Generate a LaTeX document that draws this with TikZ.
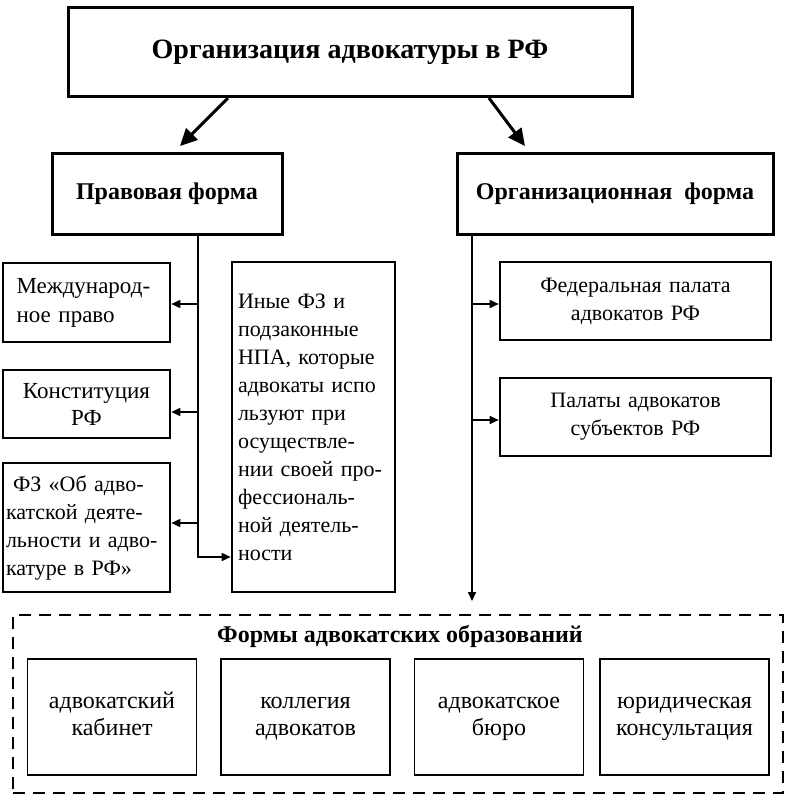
\documentclass[tikz,border=0pt]{standalone}
\usepackage{fontspec}
\setmainfont{Liberation Serif}
\usetikzlibrary{arrows.meta}

\begin{document}
\begin{tikzpicture}
  [x=1pt,y=-1pt,
   % Styles
   title box/.style={draw,line width=3pt,minimum width=564pt,minimum height=89pt,
     font=\fontsize{28}{34}\selectfont\bfseries},
   form box/.style={draw,line width=3pt,minimum height=81pt,
     font=\fontsize{24}{29}\selectfont\bfseries},
   source box/.style={draw,line width=2.6pt,inner sep=3pt,
     font=\fontsize{22}{28}\selectfont},
   kind box/.style={draw,line width=1.8pt,minimum width=169pt,minimum height=116pt,
     text width=162pt,align=center,font=\fontsize{24}{27}\selectfont},
   frame box/.style={draw,dash pattern=on 12pt off 8pt,line width=2.6pt},
   big arrow/.style={line width=3pt,-{Triangle[length=17pt,width=16pt]}},
   branch/.style={line width=1.6pt,-{Triangle[length=9pt,width=8pt]}}]

  \useasboundingbox (0,0) rectangle (790,807);

  % Top level
  \node[title box] (orgrf) at (350,52) {Организация адвокатуры в РФ};
  \node[form box,minimum width=230pt] (legal) at (167,193.5) {Правовая форма};
  \node[form box,minimum width=316pt] (organ) at (615,193.5) {Организационная\ \ форма};

  \coordinate (legal in) at (180,146);
  \coordinate (organ in) at (525,146);
  \draw[big arrow] ([xshift=-122pt]orgrf.south) -- (legal in);
  \draw[big arrow] ([xshift=139pt]orgrf.south) -- (organ in);

  % Legal sources
  \node[source box,text width=140pt,minimum width=167pt,minimum height=79pt,align=left,
    font=\fontsize{23}{29}\selectfont]
    (intl) at (86.5,302.5) {Международ-\\ное право};
  \node[source box,text width=161pt,minimum height=68pt,align=center,
    font=\fontsize{23}{27}\selectfont]
    (const) at (86.5,404) {Конституция\\РФ};
  \node[source box,text width=161pt,minimum height=129pt,align=left]
    (fzlaw) at (86.5,527.5)
    {\hspace*{7pt}ФЗ «Об адво-\\катской деяте-\\льности и адво-\\катуре в РФ»};
  \node[source box,text width=151pt,minimum width=163pt,minimum height=330pt,align=left]
    (other) at (313.5,427)
    {Иные ФЗ и\\подзаконные\\НПА, которые\\адвокаты испо\\льзуют при\\осуществле-\\нии своей про-\\фессиональ-\\ной деятель-\\ности};

  \coordinate (left top) at ([xshift=31pt]legal.south);
  \draw[branch] (left top) |- ([yshift=-130pt]other.west);
  \draw[branch] (left top |- 0,304) -- (intl.east |- 0,304);
  \draw[branch] (left top |- 0,412) -- (const.east |- 0,412);
  \draw[branch] (left top |- 0,523) -- (fzlaw.east |- 0,523);

  % Organisational bodies
  \node[source box,text width=265pt,minimum height=78pt,align=center]
    (fedchamber) at (635.5,301) {Федеральная палата\\адвокатов РФ};
  \node[source box,text width=265pt,minimum height=78pt,align=center]
    (regchamber) at (635.5,417) {Палаты адвокатов\\субъектов РФ};

  \coordinate (right top) at ([xshift=-143pt]organ.south);
  \coordinate (forms in) at (472,601);
  \draw[branch] (right top) -- (forms in);
  \draw[branch] (right top |- 0,304) -- (fedchamber.west |- 0,304);
  \draw[branch] (right top |- 0,420) -- (regchamber.west |- 0,420);

  % Forms of bar formations
  \node[frame box,minimum width=770pt,minimum height=178pt] (forms) at (398,704) {};
  \node[font=\fontsize{24}{28}\selectfont\bfseries] (formstitle) at (400,636)
    {Формы адвокатских образований};

  \foreach \x/\name/\txt in {112/cabinet/{\strut адвокатский\\\strut кабинет},
      305.5/college/{\strut коллегия\\\strut адвокатов},
      499/bureau/{\strut адвокатское\\\strut бюро},
      684.5/consult/{\strut юридическая\\\strut консультация}}
    \node[kind box] (\name) at (\x,717) {\txt};
\end{tikzpicture}
\end{document}
